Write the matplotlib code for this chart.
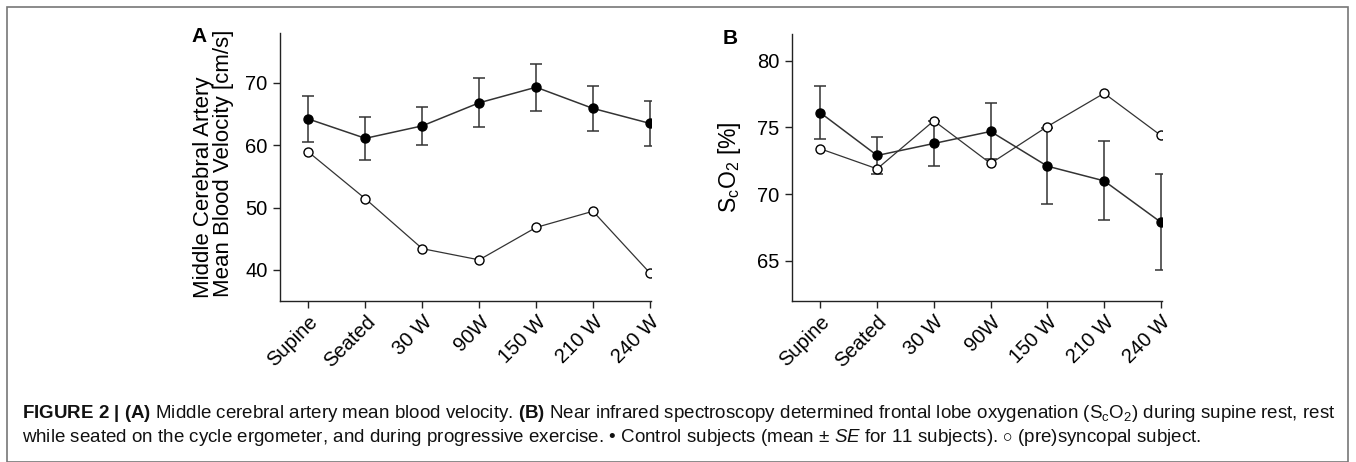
import matplotlib
matplotlib.use("Agg")
import matplotlib.pyplot as plt
from matplotlib.patches import Rectangle
from matplotlib.transforms import ScaledTranslation

plt.rcParams['font.family'] = ['Liberation Sans', 'DejaVu Sans']
plt.rcParams['mathtext.fontset'] = 'custom'
plt.rcParams['mathtext.rm'] = 'Liberation Sans'
plt.rcParams['mathtext.it'] = 'Liberation Sans:italic'
plt.rcParams['mathtext.bf'] = 'Liberation Sans:bold'

categories = ["Supine", "Seated", "30 W", "90W", "150 W", "210 W", "240 W"]

# Panel A: MCA mean blood velocity [cm/s]
mca_control = [64.2, 61.1, 63.1, 66.8, 69.3, 65.9, 63.5]
mca_control_se = [3.7, 3.4, 3.1, 3.9, 3.75, 3.6, 3.6]
mca_syncopal = [58.9, 51.4, 43.4, 41.6, 46.8, 49.4, 39.5]

# Panel B: ScO2 [%]
sco2_control = [76.1, 72.9, 73.8, 74.7, 72.1, 71.0, 67.9]
sco2_control_se = [2.0, 1.35, 1.7, 2.1, 2.85, 2.95, 3.6]
sco2_syncopal = [73.4, 71.9, 75.5, 72.3, 75.07, 77.56, 74.4]

W, H = 1356, 462
fig = plt.figure(figsize=(W / 100, H / 100), dpi=100)

def box(l, r, t, b):
    return [l / W, 1 - b / H, (r - l) / W, (b - t) / H]

axA = fig.add_axes(box(280, 651, 33, 301))
axB = fig.add_axes(box(792, 1162, 34, 301))

def draw(ax, ctrl, se, sync, ylim, yticks):
    x = list(range(len(categories)))
    ax.plot(x, sync, '-', color='#333333', lw=0.9, zorder=2)
    ax.plot(x, sync, 'o', ms=6.5, mfc='white', mec='black', mew=1.0, zorder=5)
    ax.errorbar(x, ctrl, yerr=se, fmt='-', color='#333333', lw=1.1,
                ecolor='#333333', elinewidth=1.1, capsize=4, capthick=1.1, zorder=3)
    ax.plot(x, ctrl, 'o', ms=6.5, mfc='black', mec='black', zorder=4)
    ax.set_xlim(-0.5, 6.02)
    ax.set_ylim(*ylim)
    ax.set_yticks(yticks)
    ax.set_xticks(x)
    ax.set_xticklabels(categories, rotation=45, ha='right', va='top',
                       rotation_mode='anchor', fontsize=14.5)
    off = ScaledTranslation(4 / 100, 0, fig.dpi_scale_trans)
    for lab in ax.get_xticklabels():
        lab.set_transform(lab.get_transform() + off)
    for s in ['top', 'right']:
        ax.spines[s].set_visible(False)
    for s in ['left', 'bottom']:
        ax.spines[s].set_linewidth(1.0)
        ax.spines[s].set_color('#222222')
    ax.tick_params(axis='both', direction='out', length=5, width=1.0,
                   color='#222222', labelsize=14.5, pad=4)
    ax.tick_params(axis='x', pad=3)

draw(axA, mca_control, mca_control_se, mca_syncopal, (35, 78), [40, 50, 60, 70])
draw(axB, sco2_control, sco2_control_se, sco2_syncopal, (62, 82), [65, 70, 75, 80])

# Panel A y-label drawn as two rotated lines
fig.text(214 / W, 1 - 298 / H, "Middle Cerebral Artery", fontsize=16,
         rotation=90, ha='right', va='bottom')
fig.text(234 / W, 1 - 297 / H, "Mean Blood Velocity [cm/s]", fontsize=16,
         rotation=90, ha='right', va='bottom')
axB.set_ylabel(r"S$_\mathrm{c}$O$_2$ [%]", fontsize=16.5)
axB.yaxis.set_label_coords((743 - 792) / (1162 - 792), 0.5)

fig.text(199 / W, 1 - 37 / H, "A", fontsize=15, fontweight='bold', ha='center', va='center')
fig.text(730 / W, 1 - 38 / H, "B", fontsize=15, fontweight='bold', ha='center', va='center')

line1 = (r"$\mathbf{FIGURE\ 2\ |\ (A)}$ Middle cerebral artery mean blood velocity. "
         r"$\mathbf{(B)}$ Near infrared spectroscopy determined frontal lobe oxygenation "
         r"(S$_\mathrm{c}$O$_2$) during supine rest, rest")
line2 = ("while seated on the cycle ergometer, and during progressive exercise. "
         "\u2022 Control subjects (mean \u00b1 $\\mathit{SE}$ for 11 subjects). "
         "$\\circ$ (pre)syncopal subject.")
fig.text(22 / W, 1 - 413 / H, line1, fontsize=13.5, ha='left', va='center', color='#111111')
fig.text(22 / W, 1 - 438 / H, line2, fontsize=13.5, ha='left', va='center', color='#111111')

fig.patches.append(Rectangle((7 / W, 0), (1348 - 7) / W, 1 - 7 / H,
                             transform=fig.transFigure, fill=False,
                             edgecolor='#777777', lw=1.2))

fig.savefig("out.png", dpi=100)
